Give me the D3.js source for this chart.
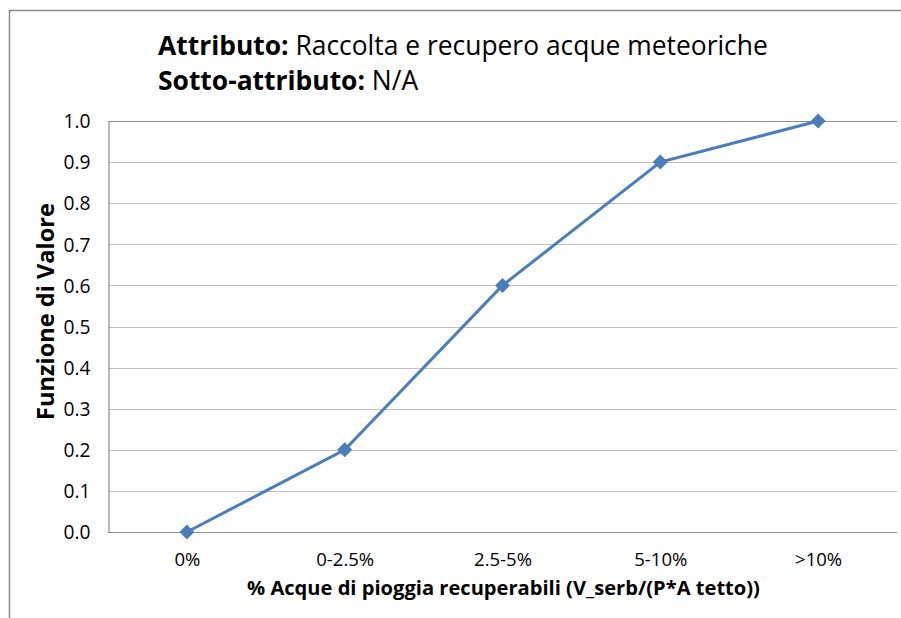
<!DOCTYPE html>
<html><head><meta charset="utf-8">
<script src="https://cdn.jsdelivr.net/npm/d3@7"></script>
<style>body{margin:0;background:#fff}svg{display:block}</style>
</head><body>
<svg id="c" width="901" height="618"></svg>
<script>
const categories = ["0%", "0-2.5%", "2.5-5%", "5-10%", ">10%"];
const values = [0.0, 0.2, 0.6, 0.9, 1.0];
const yTicks = [0.0, 0.1, 0.2, 0.3, 0.4, 0.5, 0.6, 0.7, 0.8, 0.9, 1.0];
const titleBold1 = "Attributo:", titleRest1 = " Raccolta e recupero acque meteoriche";
const titleBold2 = "Sotto-attributo:", titleRest2 = " N/A";
const xTitle = "% Acque di pioggia recuperabili (V_serb/(P*A tetto))";
const yTitle = "Funzione di Valore";

const font = "'Open Sans', sans-serif";
const svg = d3.select("#c");
const L = 108, R = 897, T = 121, B = 532;

// fit font-size of a text selection so its width matches target
function fit(sel, target) {
  const n = sel.node();
  const fs = +sel.attr("font-size");
  const w = n.getComputedTextLength ? n.getComputedTextLength() : n.getBBox().width;
  sel.attr("font-size", fs * target / w);
}

svg.append("rect").attr("x", 9.5).attr("y", 10.5).attr("width", 960).attr("height", 700)
  .attr("fill", "#fff").attr("stroke", "#898989").attr("stroke-width", 1.5);

const x = d3.scalePoint().domain(categories).range([L, R]).padding(0.5);
const y = d3.scaleLinear().domain([0, 1]).range([B, T]);

svg.append("g").selectAll("line").data(yTicks).join("line")
  .attr("x1", L).attr("x2", R)
  .attr("y1", d => Math.round(y(d)) + 0.5).attr("y2", d => Math.round(y(d)) + 0.5)
  .attr("stroke", (d, i) => (i === 0 || i === yTicks.length - 1) ? "#8c8c8c" : "#c0c0c0")
  .attr("stroke-width", 1.2);

const yAxis = svg.append("g").attr("transform", `translate(${L + 0.5},0)`)
  .call(d3.axisLeft(y).tickValues(yTicks).tickFormat(d3.format(".1f")).tickSize(0).tickPadding(18));
yAxis.select(".domain").attr("stroke", "#8c8c8c").attr("stroke-width", 1.2);
yAxis.selectAll("text").attr("font-family", font).attr("font-size", 16).attr("fill", "#000")
  .attr("dy", "0.35em");
{ const t = yAxis.select("text"); fit(t, 27); yAxis.selectAll("text").attr("font-size", t.attr("font-size")); }

const xAxis = svg.append("g").attr("transform", `translate(0,${B})`)
  .call(d3.axisBottom(x).tickSize(0).tickPadding(0));
xAxis.select(".domain").remove();
xAxis.selectAll("text").attr("font-family", font).attr("font-size", 16).attr("fill", "#000")
  .attr("dy", null).attr("y", 566 - B);
{ const t = xAxis.selectAll("text").filter((d, i) => i === 1); fit(t, 58); xAxis.selectAll("text").attr("font-size", t.attr("font-size")); }

svg.append("path").datum(values.map((v, i) => [categories[i], v]))
  .attr("fill", "none").attr("stroke", "#4a7ebb").attr("stroke-width", 3)
  .attr("d", d3.line().x(d => x(d[0])).y(d => y(d[1])));

svg.append("g").selectAll("path").data(values).join("path")
  .attr("transform", (d, i) => `translate(${x(categories[i])},${y(d)})`)
  .attr("d", "M0,-7.5L7.5,0L0,7.5L-7.5,0Z").attr("fill", "#4a7ebb");

const t1 = svg.append("text").attr("x", 158).attr("y", 55).attr("font-family", font).attr("font-size", 25).attr("fill", "#000");
t1.append("tspan").attr("font-weight", "bold").text(titleBold1);
t1.append("tspan").text(titleRest1);
fit(t1, 610);
const t2 = svg.append("text").attr("x", 158).attr("y", 90).attr("font-family", font).attr("font-size", t1.attr("font-size")).attr("fill", "#000");
t2.append("tspan").attr("font-weight", "bold").text(titleBold2);
t2.append("tspan").text(titleRest2);

const xt = svg.append("text").attr("x", 503.5).attr("y", 595).attr("text-anchor", "middle")
  .attr("font-family", font).attr("font-size", 17).attr("font-weight", "bold").text(xTitle);
fit(xt, 513);

const yt = svg.append("text").attr("transform", `translate(54,311.5) rotate(-90)`).attr("text-anchor", "middle")
  .attr("font-family", font).attr("font-size", 17).attr("font-weight", "bold").text(yTitle);
fit(yt, 217);
</script>
</body></html>
